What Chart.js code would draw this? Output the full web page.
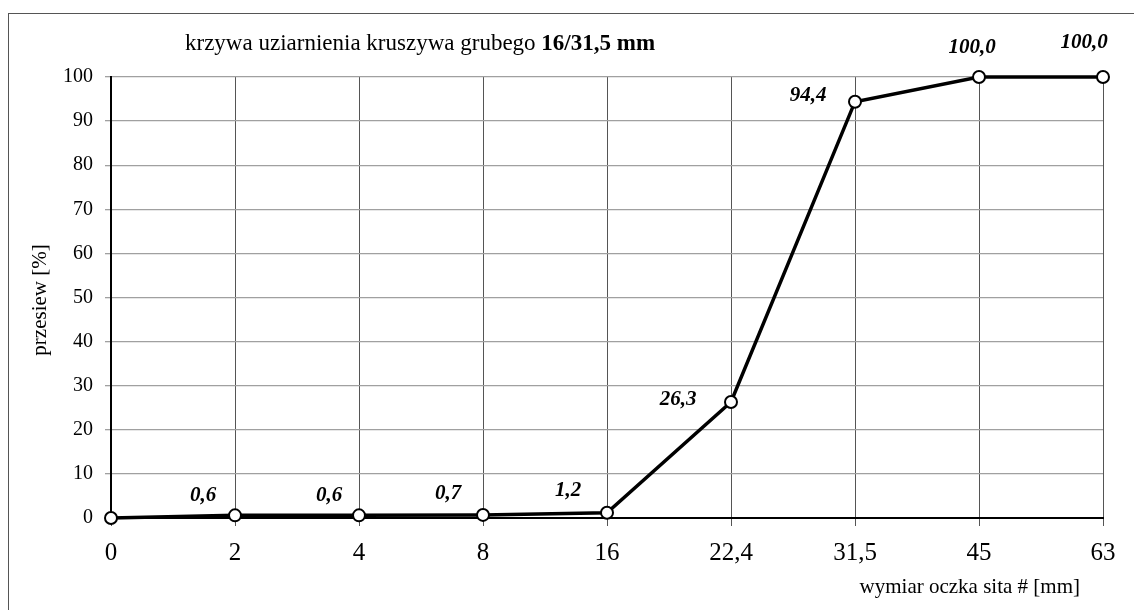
<!DOCTYPE html>
<html>
<head>
<meta charset="utf-8">
<style>
  html, body { margin: 0; padding: 0; background: #fff; }
  #wrap { width: 1134px; height: 610px; position: relative; }
</style>
<script src="https://cdn.jsdelivr.net/npm/chart.js@4/dist/chart.umd.min.js"></script>
</head>
<body>
<div id="wrap"><canvas id="sieveChart" width="1134" height="610"></canvas></div>
<script>
// Sieve sizes (category axis) and passing percentages
const sieveLabels = ["0", "2", "4", "8", "16", "22,4", "31,5", "45", "63"];
const passing = [0, 0.6, 0.6, 0.7, 1.2, 26.3, 94.4, 100, 100];
const yTicks = [0, 10, 20, 30, 40, 50, 60, 70, 80, 90, 100];

const serif = "'Liberation Serif', 'Times New Roman', serif";

// label offsets relative to each point (text placement only)
const labelOffsets = [
  null, [-32, -20], [-30, -20], [-35, -21], [-39, -22],
  [-53, -2], [-47, -6], [-7, -29], [-19, -34],
];

const decorPlugin = {
  id: "decor",
  beforeDraw(chart) {
    const ctx = chart.ctx;
    ctx.save();
    ctx.fillStyle = "#fff";
    ctx.fillRect(0, 0, chart.width, chart.height);
    // outer frame (top + left only visible)
    ctx.strokeStyle = "#555";
    ctx.lineWidth = 1;
    ctx.strokeRect(8.5, 13.5, 1200, 700);
    ctx.restore();
  },
  afterDraw(chart) {
    const ctx = chart.ctx;
    ctx.save();
    ctx.fillStyle = "#000";
    ctx.textBaseline = "middle";

    // title, mixed weight
    const t1 = "krzywa uziarnienia kruszywa grubego ";
    const t2 = "16/31,5 mm";
    ctx.font = "23px " + serif;
    ctx.textAlign = "left";
    ctx.fillText(t1, 185, 44);
    const w1 = ctx.measureText(t1).width;
    ctx.font = "bold 23px " + serif;
    ctx.fillText(t2, 185 + w1, 44);

    // axis titles
    ctx.font = "21px " + serif;
    ctx.textAlign = "right";
    ctx.fillText("wymiar oczka sita # [mm]", 1080, 587);

    ctx.save();
    ctx.translate(40, 300);
    ctx.rotate(-Math.PI / 2);
    ctx.textAlign = "center";
    ctx.fillText("przesiew [%]", 0, 0);
    ctx.restore();

    // data labels
    const meta = chart.getDatasetMeta(0);
    ctx.font = "italic bold 21px " + serif;
    ctx.textAlign = "center";
    meta.data.forEach((pt, i) => {
      const off = labelOffsets[i];
      if (!off) return;
      const txt = passing[i].toFixed(1).replace(".", ",");
      ctx.fillText(txt, pt.x + off[0], pt.y + off[1]);
    });
    ctx.restore();
  },
};

const ctx = document.getElementById("sieveChart").getContext("2d");
new Chart(ctx, {
  type: "line",
  data: {
    labels: sieveLabels,
    datasets: [
      {
        data: passing,
        borderColor: "#000",
        borderWidth: 3.5,
        tension: 0,
        pointRadius: 6,
        pointBorderWidth: 2,
        pointBorderColor: "#000",
        pointBackgroundColor: "#fff",
        clip: false,
      },
    ],
  },
  options: {
    responsive: false,
    animation: false,
    devicePixelRatio: 1,
    layout: { padding: { top: 77, right: 31, left: 0, bottom: 0 } },
    plugins: {
      legend: { display: false },
      tooltip: { enabled: false },
      title: { display: false },
    },
    scales: {
      x: {
        type: "category",
        offset: false,
        grid: {
          color: "#555",
          lineWidth: 1,
          tickLength: 8,
          drawOnChartArea: true,
        },
        border: { color: "#000", width: 2 },
        ticks: {
          color: "#000",
          font: { family: serif, size: 25 },
          padding: 12,
          maxRotation: 0,
          autoSkip: false,
        },
        afterFit(scale) {
          scale.height = 92;
        },
      },
      y: {
        min: 0,
        max: 100,
        afterBuildTicks(scale) {
          scale.ticks = yTicks.map((v) => ({ value: v }));
        },
        grid: {
          color: "#a0a0a0",
          lineWidth: 1.3,
          tickLength: 6,
        },
        border: { color: "#000", width: 2 },
        ticks: {
          color: "#000",
          font: { family: serif, size: 20 },
          padding: 12,
        },
        afterFit(scale) {
          scale.width = 111;
        },
      },
    },
  },
  plugins: [decorPlugin],
});
</script>
</body>
</html>
